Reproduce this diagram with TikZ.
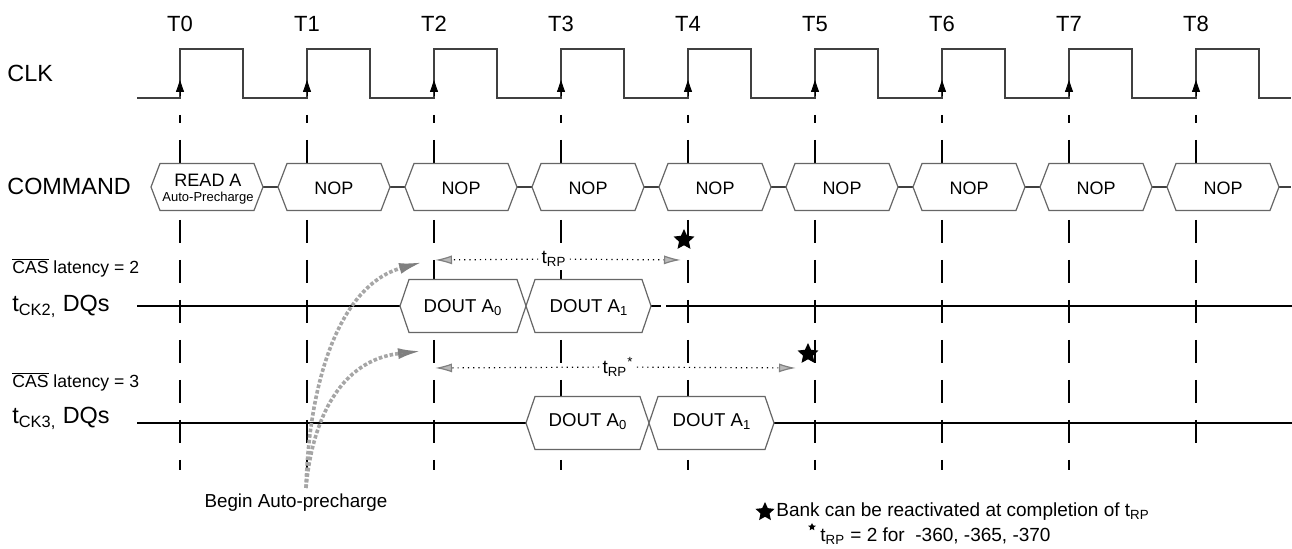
\documentclass[tikz,border=0pt]{standalone}
\usepackage{fontspec}
\setmainfont{Liberation Sans}
\usetikzlibrary{arrows.meta,shapes.geometric}
\newcommand{\pxfont}[1]{\fontsize{#1}{#1}\selectfont}
\begin{document}
\begin{tikzpicture}[x=0.5pt,y=-0.5pt,
    wave/.style={draw=black!75,line width=0.6pt},
    gridline/.style={draw=black,line width=0.9pt,dash pattern=on 11.5pt off 8.5pt,dash phase=7.5pt},
    bus/.style={draw=black!60,fill=white,line width=0.6pt},
    sig/.style={anchor=base west,inner sep=0pt,font=\pxfont{11.7}},
    cas/.style={anchor=base west,inner sep=0pt,font=\pxfont{8.8}},
    cmd/.style={anchor=base,inner sep=0pt,font=\pxfont{9}},
    dout/.style={anchor=base,inner sep=0pt,font=\pxfont{9.3}},
    rp/.style={dotted,line width=0.6pt,-{Latex[length=8.5pt,width=4.5pt,fill=gray!55,color=gray]}},
    apc/.style={draw=gray!70,line width=1.8pt,densely dotted,-{Latex[length=12pt,width=5.5pt,fill=gray!55,color=gray]}},
    bigstar/.style={star,star points=5,star point ratio=2.1,fill=black,inner sep=0pt,minimum size=11pt}]
  \useasboundingbox (0,0) rectangle (1292,549);

  \foreach \k in {0,...,7}
    \draw[gridline] ({180+127*\k},115) -- ({180+127*\k},470);
  \draw[gridline] (1196,115) -- (1196,443);

  \draw[wave] (137,98) \foreach \k in {0,...,8}{ -- ({180+127*\k},98) -- ({180+127*\k},49) -- ({243+127*\k},49) -- ({243+127*\k},98)} -- (1291,98);
  \foreach \k in {0,...,8}{
    \draw[-{Triangle[length=6pt,width=4pt]}] ({180+127*\k},96) -- ({180+127*\k},80);
    \node[anchor=base,font=\pxfont{11}] (T\k) at ({180+127*\k},32) {T\k};
  }

  \node[sig] (clk) at (7,82) {CLK};
  \node[sig] (cmd) at (7,195) {COMMAND};
  \node[cas] (cas2) at (12,274) {$\overline{\mbox{CAS}}$ latency = 2};
  \node[sig] (dq2) at (12,312) {t\textsubscript{CK2,} DQs};
  \node[cas] (cas3) at (12,388) {$\overline{\mbox{CAS}}$ latency = 3};
  \node[sig] (dq3) at (12,424) {t\textsubscript{CK3,} DQs};

  \draw[wave] (262,187) -- (1291,187);
  \foreach \k in {0,...,8}
    \draw[bus] ({151+127*\k},187) -- ++(9,-23.5) -- ++(94,0) -- ++(9,23.5) -- ++(-9,23.5) -- ++(-94,0) -- cycle;
  \node[cmd] (c0) at (208,187) {READ A};
  \node[cmd,font=\pxfont{6.5}] (c0b) at (208,202) {Auto-Precharge};
  \foreach \k in {1,...,8}
    \node[cmd] (c\k) at ({207+127*\k},195) {NOP};

  \draw[line width=0.6pt] (137,306) -- (400,306) (651,306) -- (661,306) (666,306) -- (1292,306);
  \draw[line width=0.6pt] (137,423) -- (526,423) (774,423) -- (1292,423);
  \foreach \l/\r/\y in {400/526/306, 526/651/306, 526/649/423, 649/774/423}
    \draw[bus] (\l,\y) -- ({\l+9},{\y-26.5}) -- ({\r-9},{\y-26.5}) -- (\r,\y) -- ({\r-9},{\y+26.5}) -- ({\l+9},{\y+26.5}) -- cycle;
  \node[dout] (a20) at (463,313) {DOUT A\textsubscript{0}};
  \node[dout] (a21) at (589,313) {DOUT A\textsubscript{1}};
  \node[dout] (a30) at (588,427) {DOUT A\textsubscript{0}};
  \node[dout] (a31) at (712,427) {DOUT A\textsubscript{1}};

  \coordinate (rp2l) at (435,260);
  \coordinate (rp2r) at (681,260);
  \coordinate (rp3l) at (435,368);
  \coordinate (rp3r) at (796,368);
  \node[fill=white,inner sep=1.5pt,font=\pxfont{9.5}] (rp2) at (554,259) {t\textsubscript{RP}};
  \node[fill=white,inner sep=1.5pt,font=\pxfont{9.5}] (rp3) at (618,367) {t\textsubscript{RP}\textsuperscript{*}};
  \draw[rp] (rp2) -- (rp2l);
  \draw[rp] (rp2) -- (rp2r);
  \draw[rp] (rp3) -- (rp3l);
  \draw[rp] (rp3) -- (rp3r);
  \node[bigstar] (s2) at (684,240) {};
  \node[bigstar] (s3) at (808,354) {};

  \node[anchor=base,font=\pxfont{9.4}] (bap) at (296,508) {Begin Auto-precharge};
  \coordinate (bap0) at (306,488);
  \coordinate (h2) at (423,262);
  \coordinate (h3) at (422,351);
  \draw[apc] (bap0) .. controls (309,380) and (340,285) .. (h2);
  \draw[apc] (bap0) .. controls (312,420) and (340,360) .. (h3);

  \node[bigstar,minimum size=10pt] (ls1) at (765,512) {};
  \node[anchor=base west,inner sep=0pt,font=\pxfont{9.5}] (l1) at (776,517) {Bank can be reactivated at completion of t\textsubscript{RP}};
  \node[bigstar,minimum size=4pt] (ls2) at (812,527) {};
  \node[anchor=base west,inner sep=0pt,font=\pxfont{9.5}] (l2) at (820,542) {t\textsubscript{RP} = 2 for~ -360, -365, -370};
\end{tikzpicture}
\end{document}
